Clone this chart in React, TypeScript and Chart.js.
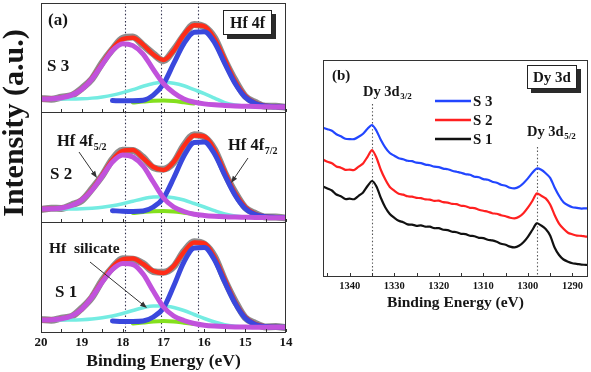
import React, { useEffect, useRef } from "react";
import { Chart, registerables } from "chart.js";

Chart.register(...registerables);

const W = 591;
const H = 372;
const SERIF = '"Liberation Serif", "Times New Roman", Times, serif';
const INK = "#151515";

// ---------------- Panel (a): Hf 4f ----------------
const energyA = [20, 19.75, 19.5, 19.25, 19, 18.75, 18.5, 18.25, 18, 17.75, 17.5, 17.25, 17, 16.75, 16.5, 16.25, 16, 15.75, 15.5, 15.25, 15, 14.75, 14.5, 14.25, 14];
const peaksA = [17.95, 17.05, 16.15];

// S 3
const s3Measured = [13.6, 12.8, 14.9, 16.6, 23.8, 33.5, 49.8, 63.4, 74.4, 75.6, 67.3, 58.8, 51.8, 62.7, 77.3, 88.4, 86, 74.8, 52.3, 32.2, 15.9, 9.6, 5.8, 5.9, 4.6];
const s3Fit = [13, 13.3, 14.3, 17, 23.2, 34, 49, 64, 73.5, 75, 68, 58, 52.5, 62, 78, 87.5, 86.5, 74, 53, 31.5, 16.5, 9, 6.3, 5.4, 5];
const s3Hf52 = [13, 13.3, 14.3, 17, 23, 33.5, 48, 62, 69, 67, 58.5, 43, 28.7, 19.5, 13.2, 10, 8.2, 7.2, 6.6, 6.1, 5.8, 5.5, 5.3, 5.1, 5];
const s3Hf72 = [null, null, null, null, null, null, null, 11.5, 11.3, 11.3, 11.8, 17, 28.3, 49, 69, 80.5, 81, 70, 49, 29, 15, 8.5, 6, 5.3, 5];
const s3Silicate = [13, 13, 13, 13, 13.3, 14, 15.2, 17, 19.5, 22.5, 26, 28.8, 30, 29, 26.5, 22.5, 18.5, 14, 9.5, 7, 5.8, 5.3, 5.1, 5, 5];
const s3Minor = [null, null, null, null, null, null, null, null, null, 9.5, 10.5, 11.3, 11.5, 11, 9.8, 8.5, null, null, null, null, null, null, null, null, null];

// S 2
const s2Measured = [12.5, 13.8, 13.6, 17.1, 21.6, 33.2, 46.4, 62.8, 71.8, 71.4, 64.7, 54.4, 52.8, 59.4, 76.7, 87.3, 84.9, 72.6, 49.3, 29.7, 14.4, 8.6, 5, 5.1, 3.9];
const s2Fit = [13, 13.2, 14, 16.5, 22.2, 32.5, 47, 62, 71, 72, 64, 55, 52, 60, 76, 86.5, 85.5, 72, 50, 29, 15, 8, 5.5, 4.6, 4.3];
const s2Hf52 = [13, 13.2, 14, 16.5, 22, 32, 46, 60, 67, 65, 56, 40, 24, 15, 10.5, 7.8, 6.5, 5.7, 5.2, 4.9, 4.7, 4.5, 4.4, 4.3, 4.3];
const s2Hf72 = [null, null, null, null, null, null, null, 11.3, 10.8, 10.6, 11, 15, 24, 44, 66, 79.5, 80, 68, 47, 27, 13.5, 7.5, 5.3, 4.6, 4.4];
const s2Silicate = [13, 13, 13, 13, 13.2, 13.8, 14.7, 16.2, 18.3, 20.8, 23.3, 25, 25.3, 24.3, 22, 18.5, 15, 11.3, 8, 6, 5, 4.6, 4.4, 4.3, 4.3];
const s2Minor = [null, null, null, null, null, null, null, null, null, 9, 10, 10.8, 11, 10.5, 9.3, 8, null, null, null, null, null, null, null, null, null];

// S 1
const s1Measured = [12.6, 11.8, 13.9, 15.5, 23.9, 34.8, 51.7, 64.4, 73.3, 72.8, 68.6, 60.4, 59.7, 65.4, 80.7, 90.3, 87.8, 75.6, 51.9, 31.2, 14.4, 8.6, 5.1, 5.4, 4.2];
const s1Fit = [12, 12.3, 13.3, 16, 23.2, 35.5, 51, 65, 72.5, 73.5, 68, 61, 59, 66, 80, 89.5, 88.5, 75, 52.5, 30.5, 15, 8, 5.6, 4.9, 4.7];
const s1Hf52 = [12, 12.3, 13.3, 16, 23, 35, 50, 62.5, 68.5, 67.5, 58, 41, 25, 16, 11.5, 8.5, 6.8, 5.9, 5.4, 5.1, 4.9, 4.8, 4.7, 4.7, 4.7];
const s1Hf72 = [null, null, null, null, null, null, null, 11, 10.6, 10.5, 11, 15, 24, 46, 70, 84, 84.5, 72, 50, 29, 14, 7.5, 5.4, 4.9, 4.7];
const s1Silicate = [12, 12, 12, 12, 12.3, 13, 14.3, 16, 18.5, 21.5, 24.3, 26, 26, 24.5, 21.5, 17.5, 13.5, 10, 7.3, 5.8, 5, 4.8, 4.7, 4.7, 4.7];
const s1Minor = [null, null, null, null, null, null, null, null, null, 8.5, 9.5, 10.5, 11, 10.5, 9.3, 8, null, null, null, null, null, null, null, null, null];

// ---------------- Panel (b): Dy 3d ----------------
const energyB = [1346, 1345, 1344, 1343, 1342, 1341, 1340, 1339, 1338, 1337, 1336, 1335, 1334, 1333, 1332, 1331, 1330, 1329, 1328, 1327, 1326, 1325, 1324, 1323, 1322, 1321, 1320, 1319, 1318, 1317, 1316, 1315, 1314, 1313, 1312, 1311, 1310, 1309, 1308, 1307, 1306, 1305, 1304, 1303, 1302, 1301, 1300, 1299, 1298, 1297, 1296, 1295, 1294, 1293, 1292, 1291, 1290, 1289, 1288, 1287, 1286];
const dyS3 = [148.3, 146.8, 145.2, 141.8, 139.7, 137.2, 136.8, 136.9, 139.2, 142.3, 147.2, 151, 145.3, 136, 128.4, 123, 120.3, 117.8, 116.8, 115.2, 114.8, 113.3, 112.9, 111.4, 110.8, 109.3, 108.9, 107.4, 106.8, 105.3, 104.2, 103.2, 101.8, 101.2, 99.3, 98.8, 96.9, 96.2, 94.3, 93.2, 91.3, 90.2, 88.3, 87.6, 89.2, 92.8, 97.6, 103.2, 107.5, 106.2, 102.8, 98.2, 88.6, 80.3, 73.8, 70.7, 68.8, 68.2, 67.4, 67.7, 67.3];
const dyS2 = [116.5, 114.2, 112.8, 109.6, 108.3, 106.2, 106.4, 106, 109.3, 112.6, 119.2, 126, 118.3, 106, 96.4, 89, 85.3, 82.2, 81.4, 79.7, 79.3, 78.2, 77.8, 76.6, 76.4, 75.2, 75.3, 73.8, 73.4, 72.2, 71.8, 70.3, 69.8, 68.2, 67.9, 66.3, 65.2, 64.3, 62.8, 62.2, 60.8, 59.7, 58.3, 57.6, 59.2, 62.8, 68.3, 75, 82.6, 80.3, 77.6, 71.5, 61, 52.4, 47.2, 43.3, 41.7, 40.4, 40.2, 39.4, 39.6];
const dyS1 = [89.5, 87.5, 85.5, 81.5, 79.8, 77, 77.3, 76.8, 80.2, 83.6, 90, 95, 89.5, 78, 68.5, 62, 58.3, 55.2, 53.8, 51.6, 51.4, 50.2, 50.6, 49.3, 49.4, 47.8, 47.9, 46.2, 45.9, 44.3, 43.8, 42.2, 41.9, 40.3, 39.8, 38.2, 37.9, 36.3, 35.6, 34.2, 32.3, 31.2, 29.4, 28.6, 30.2, 33.8, 39.2, 46, 52.7, 50.5, 47, 40.5, 28.5, 21, 16.5, 14.3, 12.8, 12.2, 11.3, 11.2, 10.8];
const peaksB = [1335, 1298];
const legendB = ["S 3", "S 2", "S 1"];

const PURPLE = "#c152dc";
const BLUE = "#3a48dd";
const GREEN = "#84e01e";
const CYAN = "#74ece2";
const RED = "#ff2c18";
const GRAY = "#8d8d8d";
const B_BLUE = "#2246ff";
const B_RED = "#ff2020";
const B_BLACK = "#111111";

type Rect = { left: number; top: number; right: number; bottom: number };
const rectS3: Rect = { left: 41, top: 3, right: 286, bottom: 112 };
const rectS2: Rect = { left: 41, top: 112, right: 286, bottom: 222 };
const rectS1: Rect = { left: 41, top: 222, right: 286, bottom: 332 };
const rectB: Rect = { left: 323, top: 60, right: 588, bottom: 276 };
const AXIS_H = 40;

const pts = (xs: number[], ys: (number | null)[]) => xs.map((x, i) => ({ x, y: ys[i] }));

function drawLabel(ctx: CanvasRenderingContext2D, text: string, x: number, cy: number, size: number, sub?: string) {
  ctx.save();
  ctx.fillStyle = INK;
  ctx.textAlign = "left";
  ctx.textBaseline = "alphabetic";
  ctx.font = `bold ${size}px ${SERIF}`;
  const base = cy + size * 0.33;
  ctx.fillText(text, x, base);
  if (sub) {
    const w = ctx.measureText(text).width;
    ctx.font = `bold ${Math.round(size * 0.62)}px ${SERIF}`;
    ctx.fillText(sub, x + w + 0.5, base + size * 0.22);
  }
  ctx.restore();
}

function drawArrow(ctx: CanvasRenderingContext2D, x1: number, y1: number, x2: number, y2: number) {
  ctx.save();
  ctx.strokeStyle = "#333";
  ctx.fillStyle = "#333";
  ctx.lineWidth = 1;
  const a = Math.atan2(y2 - y1, x2 - x1);
  const L = 7;
  const hw = 2.6;
  ctx.beginPath();
  ctx.moveTo(x1, y1);
  ctx.lineTo(x2 - L * 0.7 * Math.cos(a), y2 - L * 0.7 * Math.sin(a));
  ctx.stroke();
  ctx.beginPath();
  ctx.moveTo(x2, y2);
  ctx.lineTo(x2 - L * Math.cos(a) + hw * Math.sin(a), y2 - L * Math.sin(a) - hw * Math.cos(a));
  ctx.lineTo(x2 - L * Math.cos(a) - hw * Math.sin(a), y2 - L * Math.sin(a) + hw * Math.cos(a));
  ctx.closePath();
  ctx.fill();
  ctx.restore();
}

function drawShadowBox(ctx: CanvasRenderingContext2D, x: number, y: number, w: number, h: number, text: string, size: number) {
  ctx.save();
  ctx.fillStyle = "#2a2a2a";
  ctx.fillRect(x + 4, y + 4, w, h);
  ctx.fillStyle = "#fff";
  ctx.fillRect(x, y, w, h);
  ctx.strokeStyle = "#222";
  ctx.lineWidth = 1;
  ctx.strokeRect(x + 0.5, y + 0.5, w - 1, h - 1);
  ctx.fillStyle = INK;
  ctx.font = `bold ${size}px ${SERIF}`;
  ctx.textAlign = "center";
  ctx.textBaseline = "middle";
  ctx.fillText(text, x + w / 2, y + h / 2 + 1);
  ctx.restore();
}

function frameAndTicks(chart: any, step: number, len: number) {
  const { ctx, chartArea: a, scales } = chart;
  const x = scales.x;
  ctx.save();
  ctx.strokeStyle = "#333";
  ctx.lineWidth = 1;
  ctx.setLineDash([]);
  ctx.strokeRect(Math.round(a.left) + 0.5, Math.round(a.top) + 0.5, Math.round(a.right - a.left) - 1, Math.round(a.bottom - a.top));
  const lo = Math.min(x.min, x.max);
  const hi = Math.max(x.min, x.max);
  ctx.beginPath();
  for (let v = Math.ceil(lo / step) * step; v <= hi + 1e-9; v += step) {
    const px = Math.round(x.getPixelForValue(v)) + 0.5;
    ctx.moveTo(px, a.bottom);
    ctx.lineTo(px, a.bottom - len);
  }
  ctx.stroke();
  ctx.restore();
}

function dottedLines(chart: any, values: number[], tops: number[], color: string) {
  const { ctx, chartArea: a, scales } = chart;
  ctx.save();
  ctx.strokeStyle = color;
  ctx.lineWidth = 1.1;
  ctx.setLineDash([1.4, 2.2]);
  values.forEach((v, i) => {
    const px = Math.round(scales.x.getPixelForValue(v)) + 0.5;
    ctx.beginPath();
    ctx.moveTo(px, tops[i] ?? a.top);
    ctx.lineTo(px, a.bottom);
    ctx.stroke();
  });
  ctx.restore();
}

type Sample = {
  measured: number[];
  fit: number[];
  hf52: (number | null)[];
  hf72: (number | null)[];
  silicate: number[];
  minor: (number | null)[];
};

function line(data: any[], color: string, width: number, tension = 0) {
  return {
    data,
    borderColor: color,
    backgroundColor: color,
    borderWidth: width,
    pointRadius: 0,
    fill: false,
    spanGaps: false,
    tension,
    borderCapStyle: "round",
    borderJoinStyle: "round",
  };
}

function hfConfig(s: Sample, rect: Rect, showAxis: boolean, annotate: (ctx: CanvasRenderingContext2D) => void) {
  const smooth = (d: any) => ({ ...d, cubicInterpolationMode: "monotone" });
  const xScale: any = {
    type: "linear",
    min: 14,
    max: 20,
    reverse: true,
    display: showAxis,
    grid: { display: false, drawTicks: false },
    border: { display: false },
    ticks: {
      stepSize: 1,
      autoSkip: false,
      maxRotation: 0,
      padding: 3,
      color: INK,
      font: { family: SERIF, size: 13, weight: "bold" },
    },
    title: {
      display: showAxis,
      text: "Binding Energy (eV)",
      color: INK,
      padding: { top: 0, bottom: 0 },
      font: { family: SERIF, size: 17.5, weight: "bold" },
    },
  };
  if (showAxis) {
    xScale.afterFit = (scale: any) => {
      scale.height = AXIS_H;
    };
  }
  return {
    type: "line",
    data: {
      datasets: [
        smooth(line(pts(energyA, s.hf52), PURPLE, 5)),
        smooth(line(pts(energyA, s.hf72), BLUE, 5)),
        smooth(line(pts(energyA, s.minor), GREEN, 4)),
        smooth(line(pts(energyA, s.silicate), CYAN, 3.5)),
        smooth(line(pts(energyA, s.fit), RED, 4.5)),
        smooth(line(pts(energyA, s.measured), GRAY, 7)),
      ],
    },
    options: {
      animation: false,
      responsive: false,
      devicePixelRatio: 1,
      events: [],
      layout: {
        padding: {
          left: rect.left,
          top: rect.top,
          right: W - rect.right,
          bottom: showAxis ? H - rect.bottom - AXIS_H : H - rect.bottom,
        },
      },
      plugins: { legend: { display: false }, tooltip: { enabled: false } },
      scales: {
        x: xScale,
        y: { min: 0, max: 110, display: false },
      },
    },
    plugins: [
      {
        id: "hfDecor",
        beforeDatasetsDraw(chart: any) {
          dottedLines(chart, peaksA, [], "#2a2a48");
        },
        afterDraw(chart: any) {
          frameAndTicks(chart, 0.5, 3);
          annotate(chart.ctx);
        },
      },
    ],
  };
}

function dyConfig() {
  return {
    type: "line",
    data: {
      datasets: [
        line(pts(energyB, dyS3), B_BLUE, 2.2, 0.25),
        line(pts(energyB, dyS2), B_RED, 2.2, 0.25),
        line(pts(energyB, dyS1), B_BLACK, 2.2, 0.25),
      ],
    },
    options: {
      animation: false,
      responsive: false,
      devicePixelRatio: 1,
      events: [],
      layout: {
        padding: { left: rectB.left, top: rectB.top, right: W - rectB.right, bottom: H - rectB.bottom - AXIS_H },
      },
      plugins: { legend: { display: false }, tooltip: { enabled: false } },
      scales: {
        x: {
          type: "linear",
          min: 1286.5,
          max: 1346,
          reverse: true,
          grid: { display: false, drawTicks: false },
          border: { display: false },
          ticks: {
            stepSize: 10,
            includeBounds: false,
            autoSkip: false,
            maxRotation: 0,
            padding: 4,
            color: INK,
            font: { family: SERIF, size: 10.5, weight: "bold" },
            callback: (v: any) => String(v),
          },
          title: {
            display: true,
            text: "Binding Energy (eV)",
            color: INK,
            padding: { top: 0, bottom: 4 },
            font: { family: SERIF, size: 15.5, weight: "bold" },
          },
          afterFit: (scale: any) => {
            scale.height = AXIS_H;
          },
        },
        y: { min: 0, max: 216, display: false },
      },
    },
    plugins: [
      {
        id: "dyDecor",
        beforeDatasetsDraw(chart: any) {
          dottedLines(chart, peaksB, [104, 147], "#555");
        },
        afterDraw(chart: any) {
          const ctx = chart.ctx as CanvasRenderingContext2D;
          frameAndTicks(chart, 5, 3);
          drawLabel(ctx, "(b)", 332, 75, 15);
          drawShadowBox(ctx, 527, 65, 50, 24, "Dy 3d", 15);
          drawLabel(ctx, "Dy 3d", 363, 91, 14.5, "3/2");
          drawLabel(ctx, "Dy 3d", 527, 131, 14.5, "5/2");
          const colors = [B_BLUE, B_RED, B_BLACK];
          legendB.forEach((name, i) => {
            const y = 101 + i * 19;
            ctx.save();
            ctx.strokeStyle = colors[i];
            ctx.lineWidth = 2.5;
            ctx.beginPath();
            ctx.moveTo(435, y);
            ctx.lineTo(471, y);
            ctx.stroke();
            ctx.restore();
            drawLabel(ctx, name, 473, y, 15);
          });
        },
      },
    ],
  };
}

const S3: Sample = { measured: s3Measured, fit: s3Fit, hf52: s3Hf52, hf72: s3Hf72, silicate: s3Silicate, minor: s3Minor };
const S2: Sample = { measured: s2Measured, fit: s2Fit, hf52: s2Hf52, hf72: s2Hf72, silicate: s2Silicate, minor: s2Minor };
const S1: Sample = { measured: s1Measured, fit: s1Fit, hf52: s1Hf52, hf72: s1Hf72, silicate: s1Silicate, minor: s1Minor };

const buildS3 = () =>
  hfConfig(S3, rectS3, false, (ctx) => {
    drawLabel(ctx, "(a)", 48, 19, 17);
    drawShadowBox(ctx, 223, 10, 49, 25, "Hf 4f", 16);
    drawLabel(ctx, "S 3", 47, 65, 17);
  });

const buildS2 = () =>
  hfConfig(S2, rectS2, false, (ctx) => {
    drawLabel(ctx, "Hf 4f", 57, 141, 16.5, "5/2");
    drawArrow(ctx, 79, 152, 97, 178);
    drawLabel(ctx, "S 2", 50, 173, 17);
    drawLabel(ctx, "Hf 4f", 228, 145, 16.5, "7/2");
    drawArrow(ctx, 248, 158, 231, 183);
  });

const buildS1 = () =>
  hfConfig(S1, rectS1, true, (ctx) => {
    drawLabel(ctx, "Hf  silicate", 49, 248, 15.5);
    drawArrow(ctx, 90, 262, 147, 308);
    drawLabel(ctx, "S 1", 55, 291, 17);
    ctx.save();
    ctx.translate(15, 123);
    ctx.rotate(-Math.PI / 2);
    ctx.fillStyle = INK;
    ctx.font = `bold 30px ${SERIF}`;
    ctx.textAlign = "center";
    ctx.textBaseline = "middle";
    ctx.fillText("Intensity (a.u.)", 0, 0);
    ctx.restore();
  });

function ChartCanvas({ build }: { build: () => any }) {
  const ref = useRef<HTMLCanvasElement>(null);
  useEffect(() => {
    const chart = new Chart(ref.current as HTMLCanvasElement, build());
    return () => chart.destroy();
  }, [build]);
  return (
    <canvas
      ref={ref}
      width={W}
      height={H}
      style={{ position: "absolute", left: 0, top: 0, width: W, height: H }}
    />
  );
}

export default function App() {
  return (
    <div style={{ position: "absolute", left: 0, top: 0, width: W, height: H, background: "#fff", overflow: "hidden" }}>
      <ChartCanvas build={buildS3} />
      <ChartCanvas build={buildS2} />
      <ChartCanvas build={buildS1} />
      <ChartCanvas build={dyConfig} />
    </div>
  );
}
